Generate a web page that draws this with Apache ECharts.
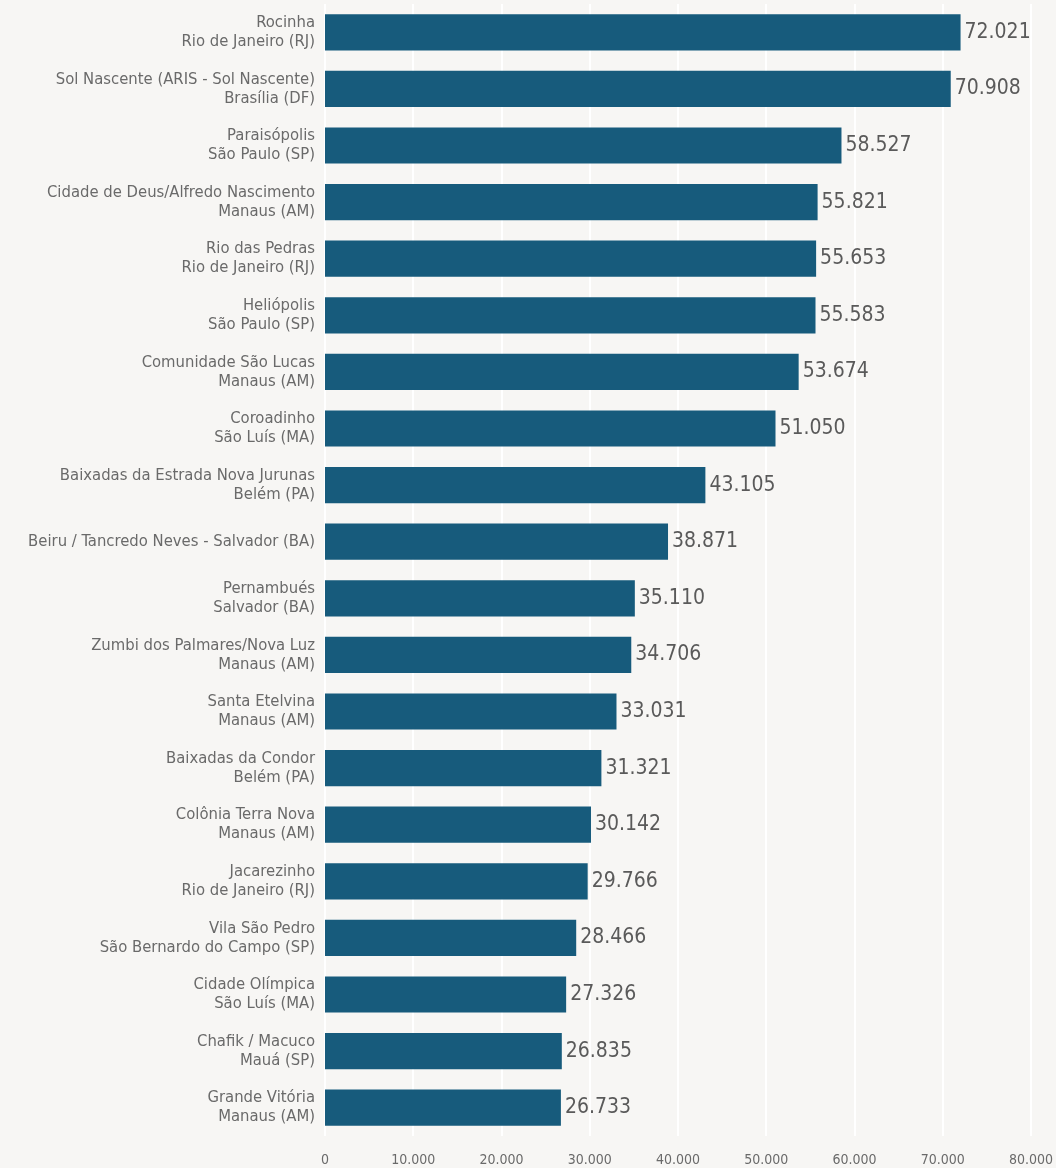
<!DOCTYPE html>
<html><head><meta charset="utf-8">
<script src="https://cdn.jsdelivr.net/npm/echarts@6/dist/echarts.min.js"></script>
<style>html,body{margin:0;padding:0;background:#f7f6f4}#c{width:1056px;height:1168px}</style>
</head><body><div id="c"></div>
<script>
const categories = [
"Rocinha\nRio de Janeiro (RJ)",
"Sol Nascente (ARIS - Sol Nascente)\nBrasília (DF)",
"Paraisópolis\nSão Paulo (SP)",
"Cidade de Deus/Alfredo Nascimento\nManaus (AM)",
"Rio das Pedras\nRio de Janeiro (RJ)",
"Heliópolis\nSão Paulo (SP)",
"Comunidade São Lucas\nManaus (AM)",
"Coroadinho\nSão Luís (MA)",
"Baixadas da Estrada Nova Jurunas\nBelém (PA)",
"Beiru / Tancredo Neves - Salvador (BA)",
"Pernambués\nSalvador (BA)",
"Zumbi dos Palmares/Nova Luz\nManaus (AM)",
"Santa Etelvina\nManaus (AM)",
"Baixadas da Condor\nBelém (PA)",
"Colônia Terra Nova\nManaus (AM)",
"Jacarezinho\nRio de Janeiro (RJ)",
"Vila São Pedro\nSão Bernardo do Campo (SP)",
"Cidade Olímpica\nSão Luís (MA)",
"Chafik / Macuco\nMauá (SP)",
"Grande Vitória\nManaus (AM)"
];
const values = [72021,70908,58527,55821,55653,55583,53674,51050,43105,38871,35110,34706,33031,31321,30142,29766,28466,27326,26835,26733];
const fmt = v => String(v).replace(/\B(?=(\d{3})+(?!\d))/g, '.');
const FONT = '"Liberation Sans Narrow","DejaVu Sans Condensed","Roboto",sans-serif';
const chart = echarts.init(document.getElementById('c'));
chart.setOption({
  backgroundColor:'#f7f6f4',
  animation:false,
  grid:{left:325,right:19,top:4,bottom:32,containLabel:false},
  xAxis:{type:'value',min:0,max:80000,interval:10000,
    axisLine:{show:false},axisTick:{show:false},
    splitLine:{show:true,lineStyle:{color:'#ffffff',width:2}},
    axisLabel:{formatter:fmt,color:'#6a6a6a',fontFamily:FONT,fontSize:14,margin:17}},
  yAxis:{type:'category',data:categories,inverse:true,
    axisLine:{show:false},axisTick:{show:false},
    axisLabel:{color:'#6a6a6a',fontFamily:FONT,fontSize:16.5,lineHeight:19,margin:10,align:'right'}},
  series:[{type:'bar',data:values,barCategoryGap:'36%',
    itemStyle:{color:'#175b7c'},
    label:{show:true,position:'right',distance:4,formatter:p=>fmt(p.value),color:'#5a5a5a',fontFamily:FONT,fontSize:21}}]
});
</script></body></html>
